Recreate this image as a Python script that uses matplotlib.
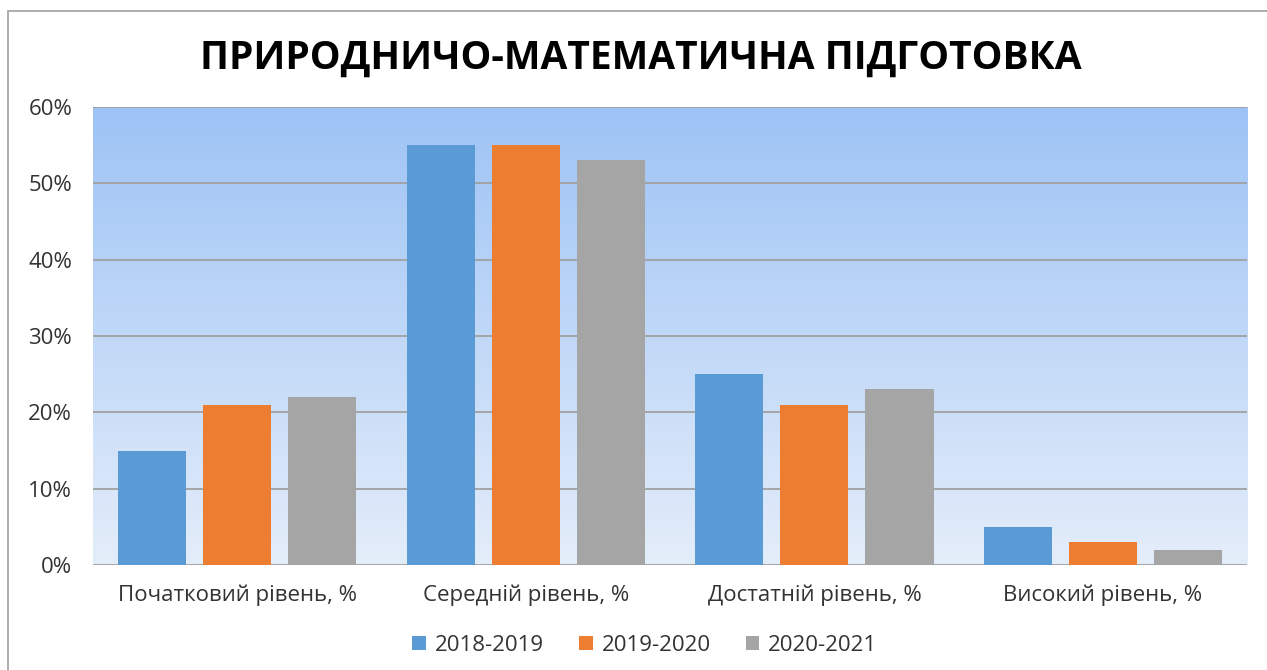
import numpy as np
import matplotlib.pyplot as plt
from matplotlib.patches import Rectangle

# data
categories = ['Початковий рівень, %', 'Середній рівень, %',
              'Достатній рівень, %', 'Високий рівень, %']
years = ['2018-2019', '2019-2020', '2020-2021']
v_2018 = [15, 55, 25, 5]
v_2019 = [21, 55, 21, 3]
v_2020 = [22, 53, 23, 2]
series = [v_2018, v_2019, v_2020]
colors = ['#5B9BD5', '#ED7D31', '#A5A5A5']

plt.rcParams['font.family'] = ['Open Sans', 'DejaVu Sans']

fig = plt.figure(figsize=(12.67, 6.70), dpi=100)
ax = fig.add_axes([0.0734, 0.1567, 0.911, 0.6836])

# gradient background of plot area
grad = np.linspace(0, 1, 256).reshape(-1, 1)
top = np.array([157, 195, 245]) / 255
bot = np.array([228, 237, 250]) / 255
img = top * (1 - grad[..., None]) + bot * grad[..., None]
img = np.repeat(img, 2, axis=1)
ax.imshow(img, extent=[-0.5, 3.5, 0, 60], aspect='auto', zorder=0)

x = np.arange(len(categories))
w = 0.236
step = 0.295
for i, (vals, c, lab) in enumerate(zip(series, colors, years)):
    ax.bar(x + (i - 1) * step, vals, width=w, color=c, label=lab, zorder=3)

ax.set_xlim(-0.5, 3.5)
ax.set_ylim(0, 60)
ax.set_yticks(range(0, 61, 10))
ax.set_yticklabels([f'{t}%' for t in range(0, 61, 10)])
ax.set_xticks(x)
ax.set_xticklabels(categories)
ax.grid(axis='y', color='#A0A0A0', linewidth=1.3, zorder=1)
for s in ax.spines.values():
    s.set_visible(False)
ax.tick_params(length=0, labelsize=16, colors='#333333')
ax.tick_params(axis='x', pad=14)
ax.tick_params(axis='y', pad=15)

fig.text(0.506, 0.913, 'ПРИРОДНИЧО-МАТЕМАТИЧНА ПІДГОТОВКА', ha='center', va='center',
         fontsize=28, fontweight='bold', color='black')

leg = fig.legend(loc='center', bbox_to_anchor=(0.509, 0.037), ncol=3, frameon=False,
                 fontsize=16, handlelength=0.6, handleheight=0.6, columnspacing=1.6,
                 handletextpad=0.4)
for t in leg.get_texts():
    t.set_color('#333333')

# outer chart border
fig.add_artist(Rectangle((8 / 1267, -0.01), 1.2, 1 - 11 / 670 + 0.01, transform=fig.transFigure,
                         fill=False, edgecolor='#A0A0A0', linewidth=1.2))

plt.savefig('out.png', dpi=100)
